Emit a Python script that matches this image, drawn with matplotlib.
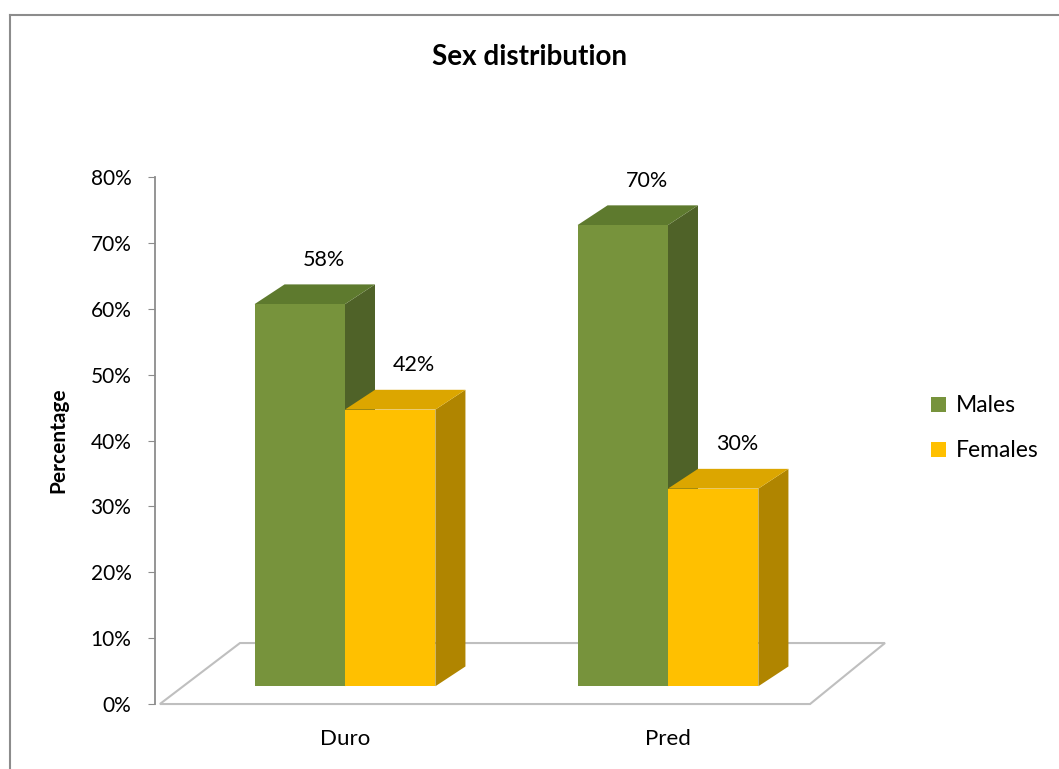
import matplotlib
matplotlib.use('Agg')
import matplotlib.pyplot as plt
from matplotlib.patches import Polygon, Patch
from matplotlib.lines import Line2D

plt.rcParams['font.family'] = ['Lato', 'DejaVu Sans']

# Данные
groups = ['Duro', 'Pred']
series = ['Males', 'Females']
males = [58, 70]
females = [42, 30]
values = [males, females]
yticks = [0, 10, 20, 30, 40, 50, 60, 70, 80]

# Цвета граней: лицевая, боковая, верхняя
colors = {
    'Males': ('#77933C', '#4F6228', '#5E7A2E'),
    'Females': ('#FFC000', '#B08500', '#DCA600'),
}

# Геометрия псевдо-3D столбцов
bar_w = 0.28
dx = 0.093   # глубина по x
dy = 3.0     # глубина по y
base = 2.7   # подъём лицевой грани над передним краем пола

fig = plt.figure(figsize=(10.59, 7.69), dpi=100)
ax = fig.add_axes([0.1464, 0.0845, 0.6893, 0.6853])
ax.set_xlim(-0.588, 1.672)
ax.set_ylim(0, 80)

# Пол диаграммы
floor = Polygon([(-0.573, 0), (-0.325, 9.26), (1.672, 9.26), (1.44, 0)],
                closed=True, facecolor='white', edgecolor='#BFBFBF',
                linewidth=1.5, clip_on=False, zorder=1)
ax.add_patch(floor)


def draw_bar(x0, v, name, z):
    front_c, side_c, top_c = colors[name]
    y0, y1 = base, base + v
    x1 = x0 + bar_w
    front = Polygon([(x0, y0), (x1, y0), (x1, y1), (x0, y1)],
                    facecolor=front_c, edgecolor='none', clip_on=False, zorder=z)
    side = Polygon([(x1, y0), (x1 + dx, y0 + dy), (x1 + dx, y1 + dy), (x1, y1)],
                   facecolor=side_c, edgecolor='none', clip_on=False, zorder=z)
    top = Polygon([(x0, y1), (x1, y1), (x1 + dx, y1 + dy), (x0 + dx, y1 + dy)],
                  facecolor=top_c, edgecolor='none', clip_on=False, zorder=z)
    for p in (side, top, front):
        ax.add_patch(p)
    ax.text(x0 + bar_w / 2 + 0.074, y1 + dy + 3.7, f'{v}%',
            ha='center', va='center', fontsize=15.5, zorder=10)


z = 2
for gi in range(len(groups)):
    for si, name in enumerate(series):
        x0 = gi - bar_w + si * bar_w
        draw_bar(x0, values[si][gi], name, z)
        z += 1

# Оси
for s in ['top', 'right', 'bottom']:
    ax.spines[s].set_visible(False)
ax.spines['left'].set_color('#8C8C8C')
ax.spines['left'].set_linewidth(1.3)
ax.set_yticks(yticks)
ax.set_yticklabels([f'{t}%' for t in yticks], fontsize=15)
ax.tick_params(axis='y', length=5, color='#8C8C8C', pad=12)
ax.set_xticks(range(len(groups)))
ax.set_xticklabels(groups, fontsize=16)
ax.tick_params(axis='x', length=0, pad=18)
ax.set_ylabel('Percentage', fontsize=15, fontweight='bold', labelpad=16)
ax.patch.set_visible(False)

fig.text(0.5, 0.926, 'Sex distribution', ha='center', va='center',
         fontsize=20, fontweight='bold')

handles = [Patch(facecolor=colors[n][0], edgecolor='none', label=n) for n in series]
fig.legend(handles=handles, loc='center left', bbox_to_anchor=(0.86, 0.443),
           frameon=False, fontsize=16.5, handlelength=0.65, handleheight=0.65,
           handletextpad=0.4, labelspacing=1.05)

# Рамка области диаграммы
fig.add_artist(Line2D([0.0094, 1.0], [0.9805, 0.9805], transform=fig.transFigure,
                      color='#8C8C8C', linewidth=1.5))
fig.add_artist(Line2D([0.0094, 0.0094], [0.0, 0.9805], transform=fig.transFigure,
                      color='#8C8C8C', linewidth=1.5))

fig.savefig('out.png', dpi=100)
